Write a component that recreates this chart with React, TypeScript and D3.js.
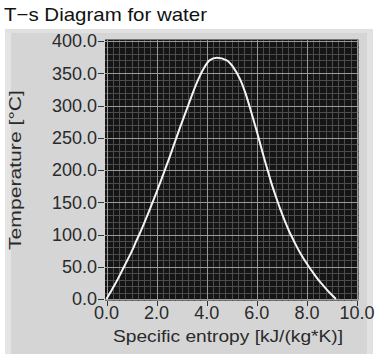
import React, { useRef, useEffect } from 'react';
import * as d3 from 'd3';

// saturation dome of water (temperature in °C, entropy in kJ/(kg*K))
const tempC = [0, 10, 20, 30, 40, 50, 60, 70, 80, 90, 100, 120, 140, 160, 180, 200, 220, 240, 260, 280, 300, 320, 340, 360, 370];
const sLiquid = [0, 0.15, 0.3, 0.44, 0.57, 0.7, 0.83, 0.96, 1.08, 1.19, 1.31, 1.53, 1.74, 1.94, 2.14, 2.33, 2.52, 2.7, 2.88, 3.07, 3.26, 3.45, 3.66, 3.92, 4.11];
const sVapor = [9.16, 8.9, 8.67, 8.45, 8.26, 8.08, 7.91, 7.75, 7.61, 7.48, 7.35, 7.13, 6.93, 6.75, 6.58, 6.43, 6.28, 6.14, 6.0, 5.85, 5.7, 5.54, 5.34, 5.05, 4.8];
const criticalS = 4.41;
const criticalT = 374;

const xTicks = [0, 2, 4, 6, 8, 10];
const yTicks = [0, 50, 100, 150, 200, 250, 300, 350, 400];

const title = 'T\u2212s Diagram for water';
const xTitle = 'Specific entropy [kJ/(kg*K)]';
const yTitle = 'Temperature [\u00b0C]';

function App() {
  const svgRef = useRef<SVGSVGElement>(null);

  useEffect(() => {
    const width = 378;
    const height = 354;
    const left = 106.5;
    const right = 357;
    const top = 41;
    const bottom = 299;
    const font = '"Liberation Sans", Arial, sans-serif';

    const svg = d3.select(svgRef.current);
    svg.selectAll('*').remove();
    svg.attr('width', width).attr('height', height);

    const x = d3.scaleLinear().domain([0, 10]).range([left, right]);
    const y = d3.scaleLinear().domain([0, 400]).range([bottom, top]);

    // panel
    svg.append('rect').attr('x', 5).attr('y', 29).attr('width', 368).attr('height', 325).attr('fill', '#d5d5d5');
    svg.append('rect').attr('x', 5).attr('y', 29).attr('width', 6).attr('height', 325).attr('fill', '#e4e4e4');
    svg.append('rect').attr('x', 367).attr('y', 29).attr('width', 6).attr('height', 325).attr('fill', '#e2e2e2');
    svg.append('rect').attr('x', 5).attr('y', 29).attr('width', 368).attr('height', 4).attr('fill', '#e0e0e0');

    // title
    svg.append('text')
      .attr('x', 4).attr('y', 21)
      .attr('font-family', font).attr('font-size', 19)
      .attr('textLength', 203).attr('lengthAdjust', 'spacingAndGlyphs')
      .attr('fill', '#111')
      .text(title);

    // plot area
    const px0 = left - 1.5, px1 = right + 1.5, py0 = top - 1.5, py1 = bottom + 1.5;
    svg.append('rect').attr('x', px0).attr('y', py0).attr('width', px1 - px0).attr('height', py1 - py0).attr('fill', '#151515');

    const minorX = d3.range(0, 10.001, 0.25);
    const minorY = d3.range(0, 400.1, 10);
    const grid = svg.append('g').attr('shape-rendering', 'crispEdges');
    grid.selectAll('line.mx').data(minorX).join('line')
      .attr('x1', d => Math.round(x(d)) + 0.5).attr('x2', d => Math.round(x(d)) + 0.5)
      .attr('y1', py0).attr('y2', py1)
      .attr('stroke', '#4c4c4c').attr('stroke-width', 1);
    grid.selectAll('line.my').data(minorY).join('line')
      .attr('y1', d => Math.round(y(d)) + 0.5).attr('y2', d => Math.round(y(d)) + 0.5)
      .attr('x1', px0).attr('x2', px1)
      .attr('stroke', '#4c4c4c').attr('stroke-width', 1);
    grid.selectAll('line.Mx').data(xTicks).join('line')
      .attr('x1', d => Math.round(x(d)) + 0.5).attr('x2', d => Math.round(x(d)) + 0.5)
      .attr('y1', py0).attr('y2', py1)
      .attr('stroke', '#9a9a9a').attr('stroke-width', 1);
    grid.selectAll('line.My').data(yTicks).join('line')
      .attr('y1', d => Math.round(y(d)) + 0.5).attr('y2', d => Math.round(y(d)) + 0.5)
      .attr('x1', px0).attr('x2', px1)
      .attr('stroke', '#9a9a9a').attr('stroke-width', 1);

    // dome
    const pts: [number, number][] = [];
    sLiquid.forEach((s, i) => pts.push([s, tempC[i]]));
    pts.push([criticalS, criticalT]);
    for (let i = sVapor.length - 1; i >= 0; i--) pts.push([sVapor[i], tempC[i]]);
    const line = d3.line<[number, number]>()
      .x(d => x(d[0])).y(d => y(d[1]))
      .curve(d3.curveMonotoneX);
    svg.append('path')
      .attr('d', line(pts))
      .attr('fill', 'none').attr('stroke', '#f4f4f4').attr('stroke-width', 2);

    // y axis
    const yAxis = svg.append('g');
    yAxis.selectAll('line').data(yTicks).join('line')
      .attr('x1', 98).attr('x2', 104)
      .attr('y1', d => Math.round(y(d)) + 0.5).attr('y2', d => Math.round(y(d)) + 0.5)
      .attr('stroke', '#333').attr('shape-rendering', 'crispEdges');
    yAxis.selectAll('text').data(yTicks).join('text')
      .attr('x', 97).attr('y', d => y(d))
      .attr('dy', '0.36em')
      .attr('text-anchor', 'end')
      .attr('font-family', font).attr('font-size', 18)
      .attr('fill', '#2a2a2a')
      .text(d => d3.format('.1f')(d));

    // x axis
    const xAxis = svg.append('g');
    xAxis.selectAll('line').data(xTicks).join('line')
      .attr('x1', d => Math.round(x(d)) + 0.5).attr('x2', d => Math.round(x(d)) + 0.5)
      .attr('y1', py1).attr('y2', py1 + 5)
      .attr('stroke', '#333').attr('shape-rendering', 'crispEdges');
    xAxis.selectAll('text').data(xTicks).join('text')
      .attr('x', d => x(d)).attr('y', 319)
      .attr('text-anchor', 'middle')
      .attr('font-family', font).attr('font-size', 18)
      .attr('fill', '#2a2a2a')
      .text(d => d3.format('.1f')(d));

    svg.append('text')
      .attr('x', 113).attr('y', 342)
      .attr('font-family', font).attr('font-size', 17)
      .attr('textLength', 230).attr('lengthAdjust', 'spacingAndGlyphs')
      .attr('fill', '#2a2a2a')
      .text(xTitle);

    svg.append('text')
      .attr('transform', `translate(21,250) rotate(-90)`)
      .attr('font-family', font).attr('font-size', 17)
      .attr('textLength', 160).attr('lengthAdjust', 'spacingAndGlyphs')
      .attr('fill', '#2a2a2a')
      .text(yTitle);
  }, []);

  return (
    <div style={{ position: 'absolute', left: 0, top: 0 }}>
      <svg ref={svgRef}></svg>
    </div>
  );
}

export default App;
